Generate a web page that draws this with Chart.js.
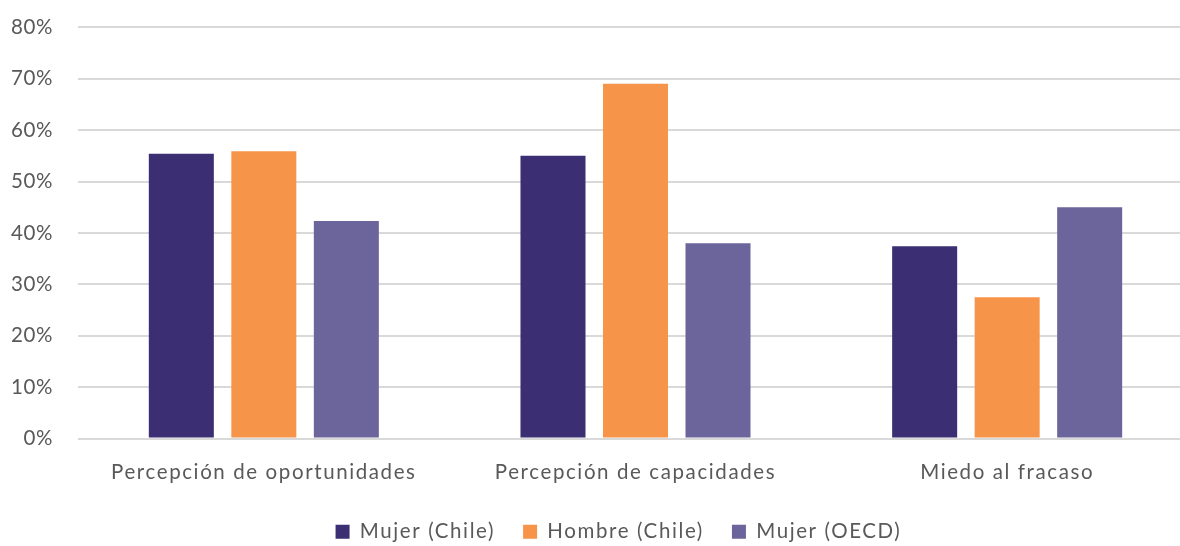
<!DOCTYPE html>
<html>
<head>
<meta charset="utf-8">
<script src="https://cdn.jsdelivr.net/npm/chart.js@4.4.1/dist/chart.umd.min.js"></script>
<style>
  html, body { margin: 0; padding: 0; background: #ffffff; overflow: hidden; }
  #wrap { width: 1180px; height: 546px; overflow: hidden; }
</style>
</head>
<body>
<div id="wrap"><canvas id="chart" width="1200" height="546"></canvas></div>
<script>
// Categories along the x axis
const categories = ['Percepción de oportunidades', 'Percepción de capacidades', 'Miedo al fracaso'];

// Series values (percent)
const mujerChile = [55.4, 55.0, 37.4];
const hombreChile = [55.9, 69.0, 27.5];
const mujerOECD = [42.3, 38.0, 45.0];

const seriesNames = ['Mujer (Chile)', 'Hombre (Chile)', 'Mujer (OECD)'];
const seriesColors = ['#3b2e73', '#f6954a', '#6c659b'];

// Y axis tick range
const yMin = 0;
const yMax = 80;
const yStep = 10;

const FONT = 'Lato, "Open Sans", sans-serif';
const TEXT = '#595959';

// Wider tracking for category labels and legend, lighter tracking for the value axis
const WIDE_SPACING = '1.6px';
const AXIS_SPACING = '0.6px';
// Extra gap between the percent labels and the plot
const Y_LABEL_SHIFT = 10;

const textSpacing = {
  id: 'textSpacing',
  beforeLayout(chart) { chart.ctx.letterSpacing = WIDE_SPACING; },
  afterLayout(chart) {
    // centre the legend under the plotted groups
    const lg = chart.legend;
    if (lg) { lg.left += 22; lg.right += 22; }
  },
  beforeDraw(chart) { chart.ctx.letterSpacing = WIDE_SPACING; },
  afterDatasetsDraw(chart) {
    // value-axis labels are drawn after the bars (ticks.z = 1)
    const ctx = chart.ctx;
    ctx.save();
    ctx.letterSpacing = AXIS_SPACING;
    ctx.translate(-Y_LABEL_SHIFT, 0);
  },
  afterDraw(chart) {
    chart.ctx.restore();
    chart.ctx.letterSpacing = WIDE_SPACING;
  }
};

const datasets = [mujerChile, hombreChile, mujerOECD].map((vals, i) => ({
  label: seriesNames[i],
  data: vals,
  backgroundColor: seriesColors[i],
  borderWidth: 0,
  categoryPercentage: 0.666,
  barPercentage: 0.788
}));

new Chart(document.getElementById('chart'), {
  type: 'bar',
  data: { labels: categories, datasets },
  plugins: [textSpacing],
  options: {
    responsive: false,
    animation: false,
    devicePixelRatio: 1,
    layout: { padding: { top: 0, right: 7, left: 0, bottom: -6 } },
    plugins: {
      tooltip: { enabled: false },
      legend: {
        position: 'bottom',
        labels: {
          color: TEXT,
          font: { family: FONT, size: 20.5 },
          boxWidth: 14,
          boxHeight: 14,
          padding: 28
        }
      }
    },
    scales: {
      x: {
        grid: { display: false, drawTicks: false },
        border: { display: false },
        ticks: { color: TEXT, font: { family: FONT, size: 20.5 }, padding: 22, maxRotation: 0 },
        afterFit: s => { s.height = 55; }
      },
      y: {
        min: yMin,
        max: yMax,
        grid: { color: '#d9d9d9', lineWidth: 2, drawTicks: false },
        border: { display: false },
        ticks: {
          z: 1,
          stepSize: yStep,
          color: TEXT,
          font: { family: FONT, size: 20.5 },
          padding: 15,
          callback: v => v + '%'
        },
        afterFit: s => { s.width = 78; }
      }
    }
  }
});
</script>
</body>
</html>
